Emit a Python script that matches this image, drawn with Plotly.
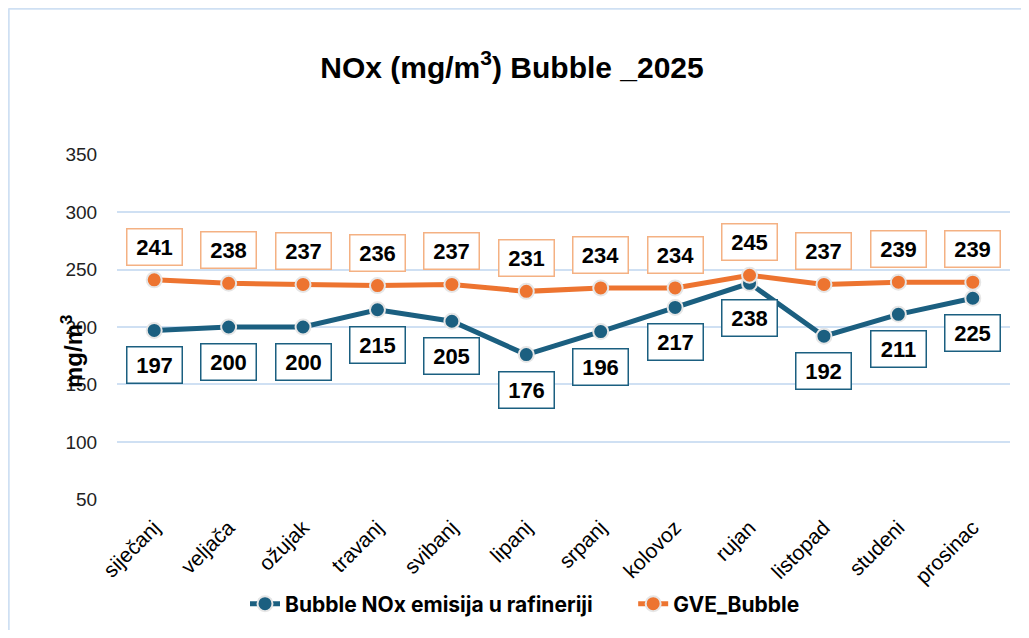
import plotly.graph_objects as go

months = ["siječanj", "veljača", "ožujak", "travanj", "svibanj", "lipanj",
          "srpanj", "kolovoz", "rujan", "listopad", "studeni", "prosinac"]
bubble_nox = [197, 200, 200, 215, 205, 176, 196, 217, 238, 192, 211, 225]
gve_bubble = [241, 238, 237, 236, 237, 231, 234, 234, 245, 237, 239, 239]

BLUE = "#1B5F80"
ORANGE = "#ED7430"
ORANGE_BOX = "#F4B183"
GRID = "#CFE0F3"
FONT = "Liberation Sans, Arial, sans-serif"

# the page body adds an 8px offset; figure coordinates are screen - 8
W, H = 1013, 622
L, R, T, B = 109, 11, 146, 130
PW = W - L - R
PH = H - T - B

fig = go.Figure()
fig.add_trace(go.Scatter(
    x=months, y=bubble_nox, mode="lines+markers",
    name="<b>Bubble NOx emisija u rafineriji</b>" + "\u00a0" * 6,
    line=dict(color=BLUE, width=5),
    marker=dict(size=15, color=BLUE, line=dict(color="#E6E6E6", width=2)),
))
fig.add_trace(go.Scatter(
    x=months, y=gve_bubble, mode="lines+markers",
    name="<b>GVE_Bubble</b>",
    line=dict(color=ORANGE, width=5),
    marker=dict(size=15, color=ORANGE, line=dict(color="#E6E6E6", width=2)),
))

for m, v in zip(months, bubble_nox):
    fig.add_annotation(x=m, y=v, xref="x", yref="y", text=f"<b>{v}</b>",
                       showarrow=False, yshift=-35,
                       font=dict(family=FONT, size=22, color="#000000"),
                       bordercolor=BLUE, borderwidth=1.5, borderpad=5,
                       bgcolor="white", width=44)
for m, v in zip(months, gve_bubble):
    fig.add_annotation(x=m, y=v, xref="x", yref="y", text=f"<b>{v}</b>",
                       showarrow=False, yshift=33,
                       font=dict(family=FONT, size=22, color="#000000"),
                       bordercolor=ORANGE_BOX, borderwidth=1.5, borderpad=5,
                       bgcolor="white", width=44)

# y-axis title
fig.add_annotation(xref="paper", yref="paper", x=(47 - L) / PW, y=(H - B - 344) / PH,
                   text="<b>mg/m<sup>3</sup></b>", textangle=-90, showarrow=False,
                   font=dict(family=FONT, size=24, color="#000000"))

# outer frame (top and left edges)
fx = (0.5 - L) / PW
fy = (H - B - 0.5) / PH
fig.add_shape(type="line", xref="paper", yref="paper",
              x0=fx, x1=1.2, y0=fy, y1=fy, line=dict(color=GRID, width=2.5))
fig.add_shape(type="line", xref="paper", yref="paper",
              x0=fx, x1=fx, y0=fy, y1=-0.6, line=dict(color=GRID, width=2.5))

fig.update_layout(
    width=W, height=H,
    margin=dict(l=L, r=R, t=T, b=B, autoexpand=False),
    paper_bgcolor="white", plot_bgcolor="white",
    title=dict(text="<b>NOx (mg/m<sup>3</sup>) Bubble _2025</b>",
               x=(512 - 8) / W, xanchor="center", y=1 - 59 / H, yanchor="middle",
               font=dict(family=FONT, size=30, color="#000000")),
    showlegend=True,
    legend=dict(orientation="h", x=(517 - L) / PW, xanchor="center",
                y=-(596 - (H - B)) / PH, yanchor="middle",
                font=dict(family="Inter, Liberation Sans, sans-serif", size=21, color="#000000"),
                bgcolor="rgba(0,0,0,0)"),
    font=dict(family=FONT, color="#000000"),
)
fig.update_xaxes(range=[-0.5, 11.5], automargin=False, tickangle=-45,
                 tickfont=dict(family=FONT, size=21, color="#000000"),
                 showgrid=False, showline=False, ticks="outside", ticklen=6,
                 tickcolor="rgba(0,0,0,0)")
fig.update_yaxes(range=[49.5, 350.5], dtick=50, tick0=50, automargin=False,
                 tickfont=dict(family=FONT, size=19, color="#222222"),
                 showgrid=True, gridcolor=GRID, gridwidth=1.5, zeroline=False,
                 ticks="outside", ticklen=15, tickcolor="rgba(0,0,0,0)")

fig.write_html("out.html")
